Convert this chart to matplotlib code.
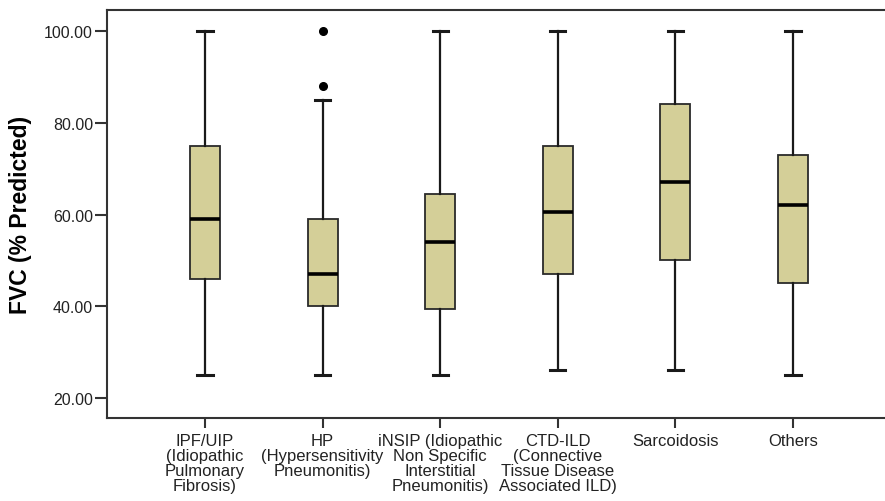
import matplotlib
matplotlib.use("Agg")
import matplotlib.pyplot as plt

plt.rcParams['font.family'] = ['Liberation Sans', 'DejaVu Sans']

categories = [
    "IPF/UIP\n(Idiopathic\nPulmonary\nFibrosis)",
    "HP\n(Hypersensitivity\nPneumonitis)",
    "iNSIP (Idiopathic\nNon Specific\nInterstitial\nPneumonitis)",
    "CTD-ILD\n(Connective\nTissue Disease\nAssociated ILD)",
    "Sarcoidosis",
    "Others",
]
whisker_low = [25, 25, 25, 26, 26, 25]
q1 = [46, 40, 39.5, 47, 50, 45]
median = [59, 47, 54, 60.5, 67, 62]
q3 = [75, 59, 64.5, 75, 84, 73]
whisker_high = [100, 85, 100, 100, 100, 100]
outliers = [[], [88, 100], [], [], [], []]

yticks = [20, 40, 60, 80, 100]
ytick_labels = ["20.00", "40.00", "60.00", "80.00", "100.00"]
ylabel = "FVC (% Predicted)"

stats = []
for i in range(len(categories)):
    stats.append(dict(med=median[i], q1=q1[i], q3=q3[i],
                      whislo=whisker_low[i], whishi=whisker_high[i],
                      fliers=outliers[i], label=categories[i]))

fig = plt.figure(figsize=(8.85, 5.02), dpi=100)
ax = fig.add_axes([107/885, 1-419/502, 1-107/885, (419-11)/502])

positions = list(range(1, len(categories) + 1))
ax.bxp(stats, positions=positions, widths=0.255, patch_artist=True,
       boxprops=dict(facecolor='#D4CF98', edgecolor='#2a2a2a', linewidth=1.3),
       medianprops=dict(color='black', linewidth=2.6),
       whiskerprops=dict(color='#1a1a1a', linewidth=1.6),
       capprops=dict(color='#1a1a1a', linewidth=2.2),
       capwidths=0.13,
       flierprops=dict(marker='o', markerfacecolor='black', markeredgecolor='black',
                       markersize=5.5))

ax.set_xlim(0.1667, 6.782)
ax.set_ylim(15.64, 104.6)
ax.set_yticks(yticks)
ax.set_yticklabels(ytick_labels, fontsize=11.5, color='#222222')
ax.set_xticks(positions)
ax.set_xticklabels(categories, fontsize=12, linespacing=0.98, color='#222222')
ax.set_ylabel(ylabel, fontsize=16.5, fontweight='bold', labelpad=9)

for side in ['left', 'top', 'bottom']:
    ax.spines[side].set_color('#333333')
    ax.spines[side].set_linewidth(1.5)
ax.spines['right'].set_visible(False)
ax.tick_params(axis='y', length=9, width=1.5, color='#333333', pad=1)
ax.tick_params(axis='x', length=7, width=1.5, color='#333333', pad=4)

fig.savefig("out.png", dpi=100)
